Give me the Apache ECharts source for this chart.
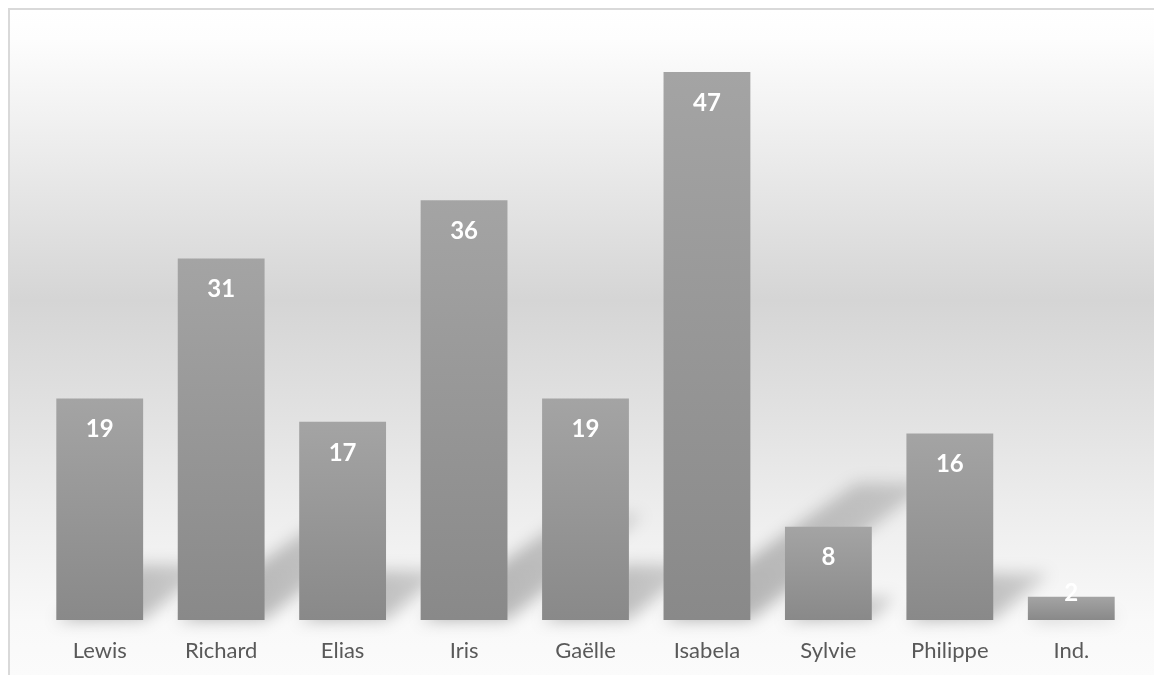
<!DOCTYPE html>
<html>
<head>
<meta charset="utf-8">
<script src="https://cdn.jsdelivr.net/npm/echarts@6/dist/echarts.min.js"></script>
<style>
  html, body { margin: 0; padding: 0; background: #fff; overflow: hidden; }
  .wrap { position: relative; width: 1154px; height: 675px; }
  .frame {
    position: absolute; left: 8px; top: 8px; width: 1160px; height: 680px;
    border: 2px solid #d9d9d9;
    background: linear-gradient(to bottom, #ffffff 0px, #fdfdfd 30px, #d5d5d5 290px,
      #e1e1e1 400px, #ededed 500px, #f9f9f9 612px, #fbfbfb 667px);
  }
  #main { position: absolute; left: 0; top: 0; width: 1154px; height: 675px; }
</style>
</head>
<body>
<div class="wrap">
  <div class="frame"></div>
  <div id="main"></div>
</div>
<script>
const categories = ['Lewis', 'Richard', 'Elias', 'Iris', 'Gaëlle', 'Isabela', 'Sylvie', 'Philippe', 'Ind.']
const values = [19, 31, 17, 36, 19, 47, 8, 16, 2]

const chart = echarts.init(document.getElementById('main'))

// dégradé des barres
const barFill = new echarts.graphic.LinearGradient(0, 0, 0, 1, [
  { offset: 0, color: '#a4a4a4' },
  { offset: 1, color: '#898989' },
])

// ombre en perspective (dessinée hors écran, seule l'ombre est ramenée)
const OFF = 3000
function renderShadow(params, api) {
  const base = api.coord([api.value(0), 0])
  const top = api.coord([api.value(0), api.value(1)])
  const h = base[1] - top[1]
  const w = api.size([1, 0])[0] * 0.715
  const x0 = base[0] - w / 2
  const x1 = base[0] + w / 2
  const dx = 0.34 * h
  const dy = 0.25 * h
  const shrink = w * 0.08
  return {
    type: 'polygon',
    shape: {
      points: [
        [x0 + OFF, base[1]],
        [x1 + OFF, base[1]],
        [x1 + dx - shrink + OFF, base[1] - dy],
        [x0 + dx + shrink + OFF, base[1] - dy],
      ],
    },
    style: {
      fill: new echarts.graphic.LinearGradient(0, 1, 1, 0, [
        { offset: 0, color: 'rgba(0,0,0,1)' },
        { offset: 1, color: 'rgba(0,0,0,0.5)' },
      ]),
      shadowColor: 'rgba(0,0,0,0.3)',
      shadowBlur: 16,
      shadowOffsetX: -OFF,
    },
  }
}

const option = {
  animation: false,
  grid: { left: 39, right: 22, top: 37, bottom: 55 },
  xAxis: {
    type: 'category',
    data: categories,
    axisLine: { show: false },
    axisTick: { show: false },
    axisLabel: {
      color: '#595959',
      fontFamily: 'Lato',
      fontSize: 22,
      margin: 20,
    },
  },
  yAxis: {
    type: 'value',
    min: 0,
    max: 50,
    show: false,
    splitLine: { show: false },
  },
  series: [
    {
      type: 'custom',
      z: 1,
      clip: false,
      renderItem: renderShadow,
      data: values.map((v, i) => [i, v]),
    },
    {
      type: 'bar',
      z: 3,
      barCategoryGap: '28.5%',
      itemStyle: { color: barFill },
      label: {
        show: true,
        position: 'insideTop',
        distance: 19,
        color: '#ffffff',
        fontFamily: 'Lato',
        fontWeight: 'bold',
        fontSize: 24,
      },
      data: values.map((v) =>
        v < 4 ? { value: v, label: { position: 'top', distance: -9 } } : v
      ),
    },
  ],
}

chart.setOption(option)
</script>
</body>
</html>
